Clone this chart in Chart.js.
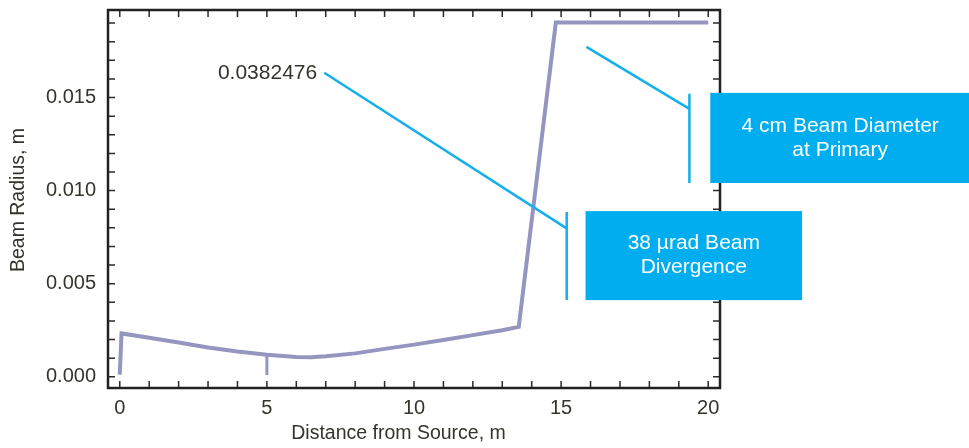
<!DOCTYPE html>
<html>
<head>
<meta charset="utf-8">
<script src="https://cdn.jsdelivr.net/npm/chart.js@4.4.1/dist/chart.umd.min.js"></script>
<style>
  html, body { margin: 0; padding: 0; background: #ffffff; }
  #wrap { width: 969px; height: 448px; position: relative; }
</style>
</head>
<body>
<div id="wrap"><canvas id="c" width="969" height="448"></canvas></div>
<script>
// ---- data ----
const distance = [0, 0.06, 1, 2, 3, 4, 5, 6, 6.5, 7, 8, 9, 10, 11, 12, 13, 13.56, 14.82, 20];
const radius   = [0.00012, 0.00233, 0.00210, 0.00184, 0.00158, 0.00136, 0.00118, 0.00107, 0.00105, 0.00110, 0.00126, 0.00150, 0.00173, 0.00198, 0.00224, 0.00250, 0.00268, 0.01903, 0.01903];
const markerDistance = [5, 5];
const markerRadius   = [0.00118, 0.00010];
const xTickValues = [0, 5, 10, 15, 20];
const yTickValues = [0, 0.005, 0.010, 0.015];
const xTitle = 'Distance from Source, m';
const yTitle = 'Beam Radius, m';
const calloutValue = '0.0382476';
const boxLabels1 = ['38 µrad Beam', 'Divergence'];
const boxLabels2 = ['4 cm Beam Diameter', 'at Primary'];

// ---- annotation geometry (data units) ----
const ann = {
  c1: { textX: 6.71, textY: 0.01633, lx0: 6.95, ly0: 0.01633, lx1: 15.16, ly1: 0.0080,
        vx: 15.19, vy0: 0.00885, vy1: 0.00412, bx0: 15.83, bx1: 23.19, by0: 0.0089, by1: 0.00412 },
  c2: { lx0: 15.86, ly0: 0.01772, lx1: 19.36, ly1: 0.01439,
        vx: 19.36, vy0: 0.0152, vy1: 0.01041, bx0: 20.07, bx1: 28.9, by0: 0.01525, by1: 0.01041 }
};

const FONT = '"Liberation Sans", Arial, Helvetica, sans-serif';
const TEXT = '#34342c';
const LINE = '#9496bf';
const BLUE = '#00aeef';
const CALLOUT = '#15b0ea';

const frameAndAnnotations = {
  id: 'frameAnn',
  afterDatasetsDraw(chart) {
    const ctx = chart.ctx;
    const xs = chart.scales.x, ys = chart.scales.y;
    const a = chart.chartArea;
    const X = v => xs.getPixelForValue(v), Y = v => ys.getPixelForValue(v);
    ctx.save();
    // minor/major ticks inward on all four sides
    ctx.strokeStyle = '#2a2a2a';
    ctx.lineWidth = 1.5;
    ctx.beginPath();
    for (let v = 0; v <= 20; v++) {
      const px = X(v);
      ctx.moveTo(px, a.bottom); ctx.lineTo(px, a.bottom - 7);
      ctx.moveTo(px, a.top); ctx.lineTo(px, a.top + 7);
    }
    for (let i = 0; i <= 19; i++) {
      const py = Y(i / 1000);
      ctx.moveTo(a.left, py); ctx.lineTo(a.left + 7, py);
      ctx.moveTo(a.right, py); ctx.lineTo(a.right - 7, py);
    }
    ctx.stroke();
    // frame
    ctx.lineWidth = 2.5;
    ctx.strokeStyle = '#222222';
    ctx.strokeRect(a.left, a.top, a.right - a.left, a.bottom - a.top);

    // callout lines
    const c1 = ann.c1, c2 = ann.c2;
    ctx.strokeStyle = CALLOUT;
    ctx.lineWidth = 2.5;
    ctx.beginPath();
    ctx.moveTo(X(c1.lx0), Y(c1.ly0)); ctx.lineTo(X(c1.lx1), Y(c1.ly1));
    ctx.moveTo(X(c1.vx), Y(c1.vy0)); ctx.lineTo(X(c1.vx), Y(c1.vy1));
    ctx.moveTo(X(c2.lx0), Y(c2.ly0)); ctx.lineTo(X(c2.lx1), Y(c2.ly1));
    ctx.moveTo(X(c2.vx), Y(c2.vy0)); ctx.lineTo(X(c2.vx), Y(c2.vy1));
    ctx.stroke();

    ctx.fillStyle = TEXT;
    ctx.font = '21px ' + FONT;
    ctx.textAlign = 'right';
    ctx.textBaseline = 'middle';
    ctx.fillText(calloutValue, X(c1.textX), Y(c1.textY));

    // boxes
    const drawBox = (c, lines) => {
      const x0 = X(c.bx0), x1 = X(c.bx1), y0 = Y(c.by0), y1 = Y(c.by1);
      ctx.fillStyle = BLUE;
      ctx.fillRect(x0, y0, x1 - x0, y1 - y0);
      ctx.fillStyle = '#ffffff';
      ctx.font = '21px ' + FONT;
      ctx.textAlign = 'center';
      ctx.textBaseline = 'middle';
      const cx = (x0 + x1) / 2, cy = (y0 + y1) / 2;
      ctx.fillText(lines[0], cx, cy - 12);
      ctx.fillText(lines[1], cx, cy + 12);
    };
    drawBox(c1, boxLabels1);
    drawBox(c2, boxLabels2);

    // axis titles
    ctx.fillStyle = TEXT;
    ctx.font = '19.5px ' + FONT;
    ctx.textAlign = 'center';
    ctx.textBaseline = 'middle';
    ctx.fillText(xTitle, 398.5, 434);
    ctx.translate(19, 200);
    ctx.rotate(-Math.PI / 2);
    ctx.fillText(yTitle, 0, 0);
    ctx.restore();
  }
};

new Chart(document.getElementById('c'), {
  type: 'line',
  data: {
    datasets: [
      {
        data: distance.map((d, i) => ({ x: d, y: radius[i] })),
        borderColor: LINE, borderWidth: 4, pointRadius: 0, fill: false,
        tension: 0, borderJoinStyle: 'miter', clip: false
      },
      {
        data: markerDistance.map((d, i) => ({ x: d, y: markerRadius[i] })),
        borderColor: LINE, borderWidth: 3, pointRadius: 0, fill: false, tension: 0
      }
    ]
  },
  options: {
    responsive: false,
    animation: false,
    devicePixelRatio: 1,
    layout: { padding: { left: 0, right: 249, top: 10, bottom: 0 } },
    plugins: { legend: { display: false }, tooltip: { enabled: false }, title: { display: false } },
    scales: {
      x: {
        type: 'linear', min: -0.4, max: 20.4,
        grid: { display: false, drawTicks: false },
        border: { display: false },
        afterBuildTicks: s => { s.ticks = xTickValues.map(v => ({ value: v })); },
        afterFit: s => { s.height = 60; s.paddingLeft = 0; s.paddingRight = 0; },
        ticks: { color: TEXT, font: { family: FONT, size: 20 }, padding: 8, maxRotation: 0,
                 callback: v => String(v) }
      },
      y: {
        type: 'linear', min: -0.0006, max: 0.0197,
        grid: { display: false, drawTicks: false },
        border: { display: false },
        afterBuildTicks: s => { s.ticks = yTickValues.map(v => ({ value: v })); },
        afterFit: s => { s.width = 108; s.paddingTop = 0; s.paddingBottom = 0; },
        ticks: { color: TEXT, font: { family: FONT, size: 20 }, padding: 12,
                 callback: v => Number(v).toFixed(3) }
      }
    }
  },
  plugins: [frameAndAnnotations]
});
</script>
</body>
</html>
